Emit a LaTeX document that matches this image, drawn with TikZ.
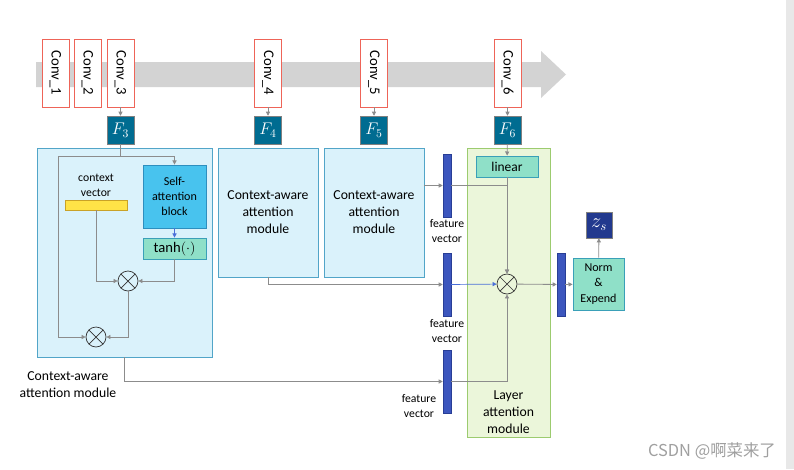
\documentclass[tikz,border=0pt]{standalone}
\usepackage{fontspec}
\setmainfont{Carlito}
\newfontfamily\cjkfont{Noto Sans CJK SC}
\usetikzlibrary{arrows.meta}

\definecolor{bandgray}{RGB}{211,211,211}
\definecolor{convred}{RGB}{238,100,88}
\definecolor{fteal}{RGB}{0,108,145}
\definecolor{modfill}{RGB}{218,242,251}
\definecolor{moddraw}{RGB}{82,165,200}
\definecolor{safill}{RGB}{72,195,238}
\definecolor{sadraw}{RGB}{45,143,191}
\definecolor{mint}{RGB}{143,224,200}
\definecolor{mintdraw}{RGB}{58,160,184}
\definecolor{cvyellow}{RGB}{255,227,71}
\definecolor{cvdraw}{RGB}{201,162,39}
\definecolor{fvblue}{RGB}{60,86,190}
\definecolor{fvdraw}{RGB}{40,62,150}
\definecolor{layfill}{RGB}{235,246,218}
\definecolor{laydraw}{RGB}{156,203,111}
\definecolor{zsblue}{RGB}{34,57,142}
\definecolor{wire}{RGB}{140,140,140}
\definecolor{bluewire}{RGB}{74,111,216}

\tikzset{
  conv/.style={draw=convred, fill=white, line width=0.8pt, inner sep=0pt,
    minimum width=0.81cm, minimum height=2.04cm, font=\fontsize{12.5}{14}\selectfont},
  fmap/.style={draw=gray, fill=fteal, text=white, inner sep=0pt,
    minimum width=0.81cm, minimum height=0.84cm, font=\fontsize{14.5}{16}\selectfont},
  module/.style={draw=moddraw, fill=modfill, line width=0.7pt, inner sep=2pt, align=center,
    font=\fontsize{11.7}{14.5}\selectfont},
  mintbox/.style={draw=mintdraw, fill=mint, line width=0.7pt, inner sep=0pt, align=center},
  fvec/.style={draw=fvdraw, fill=fvblue, inner sep=0pt, minimum width=0.24cm, minimum height=1.89cm},
  small/.style={align=center, font=\fontsize{10}{12.8}\selectfont},
  mult/.style={circle, draw=black!80, line width=0.6pt, minimum size=0.6cm, inner sep=0pt,
    path picture={\draw[black!80, line width=0.6pt]
      (path picture bounding box.north west) -- (path picture bounding box.south east)
      (path picture bounding box.north east) -- (path picture bounding box.south west);}},
  line/.style={draw=wire, line width=0.7pt},
  arr/.style={line, -{Triangle[length=3.5pt,width=3.5pt]}}
}

\begin{document}
\begin{tikzpicture}[x=0.03cm, y=-0.03cm]

\useasboundingbox (0,0) rectangle (794,469);
\fill [gray!18] (786,0) rectangle (794,469);

% backbone
\fill [bandgray] (36,62) -- (541,62) -- (541,51) -- (566,74.5) -- (541,98) -- (541,87) -- (36,87) -- cycle;

\node [conv] (c1) at (55.5,73) {\rotatebox{-90}{Conv\_1}};
\node [conv] (c2) at (87.5,73) {\rotatebox{-90}{Conv\_2}};
\node [conv] (c3) at (120.5,73) {\rotatebox{-90}{Conv\_3}};
\node [conv] (c4) at (268,73) {\rotatebox{-90}{Conv\_4}};
\node [conv] (c5) at (374,73) {\rotatebox{-90}{Conv\_5}};
\node [conv] (c6) at (507.5,73) {\rotatebox{-90}{Conv\_6}};

\node [fmap] (f3) at (120.5,130) {$F_3$};
\node [fmap] (f4) at (268,130) {$F_4$};
\node [fmap] (f5) at (374,130) {$F_5$};
\node [fmap] (f6) at (507.5,130) {$F_6$};

\foreach \i in {3,4,5,6}
  \draw [arr] (c\i) -- (f\i);

% context-aware attention modules
\node [module, minimum width=5.25cm, minimum height=6.27cm] (m1) at (124.5,252.5) {};
\node [module, minimum width=3cm, minimum height=3.87cm] (m2) at (268,212.5) {Context-aware\\attention\\module};
\node [module, minimum width=3cm, minimum height=3.87cm] (m3) at (374,212.5) {Context-aware\\attention\\module};
\node [align=center, font=\fontsize{11.7}{14.5}\selectfont] (m1lab) at (68,384.5) {Context-aware\\attention module};

% inside the first module
\node [draw=sadraw, fill=safill, line width=0.7pt, minimum width=1.89cm, minimum height=1.89cm,
  align=center, font=\fontsize{10.3}{12.6}\selectfont] (sa) at (174.5,196.5) {Self-\\attention\\block};
\node [mintbox, minimum width=1.89cm, minimum height=0.63cm, font=\fontsize{12.5}{14}\selectfont] (tanh) at (174.5,248.5) {$\tanh(\cdot)$};
\node [small] (cvlab) at (96,185) {context\\vector};
\node [draw=cvdraw, fill=cvyellow, minimum width=1.86cm, minimum height=0.3cm, inner sep=0pt] (cv) at (96,205) {};
\node [mult] (o1) at (128,281) {};
\node [mult] (o2) at (96,337) {};

\coordinate (split) at (120.5,156);
\coordinate (lft) at (58,156);
\draw [line] (f3) -- (split);
\draw [arr] (split) -| (sa.north);
\draw [arr] (split) -- (lft) |- (o2);
\draw [-{Triangle[length=3.5pt,width=3.5pt]}, bluewire, line width=0.7pt] (sa) -- (tanh);
\draw [arr] (cv.south) |- (o1);
\draw [arr] (tanh.south) |- (o1);
\draw [arr] (o1.south) |- (o2);

% feature vectors
\node [fvec] (fv1) at (447,185.5) {};
\node [fvec] (fv2) at (447,284.5) {};
\node [fvec] (fv3) at (447,381.5) {};
\node [small] at (447,231.5) {feature\\vector};
\node [small] at (447,331.5) {feature\\vector};
\node [small] at (419,406) {feature\\vector};

\draw [arr] (m3.east |- fv1) -- (fv1);
\draw [arr] (m2.south) |- (fv2);
\draw [arr] (m1.south) |- (fv3);

% layer attention module
\node [draw=laydraw, fill=layfill, line width=0.7pt, minimum width=2.49cm, minimum height=8.67cm] (lam) at (508.5,292.5) {};
\node [align=center, font=\fontsize{11.7}{14.5}\selectfont] at (508.5,412) {Layer\\attention\\module};
\node [mintbox, minimum width=1.86cm, minimum height=0.63cm, font=\fontsize{11.5}{13}\selectfont] (lin) at (507,166.5) {linear};
\node [mult] (o3) at (507,284) {};

\draw [arr] (f6) -- (lin);
\draw [arr] (lin) -- (o3);
\draw [arr] (fv1.east) -| (o3);
\draw [-{Triangle[length=3.5pt,width=3.5pt]}, bluewire, line width=0.6pt] (fv2) -- (o3);
\draw [arr] (fv3.east) -| (o3);

% output
\node [fvec] (fvo) at (561,284.5) {};
\node [mintbox, minimum width=1.53cm, minimum height=1.56cm, font=\fontsize{10.3}{13}\selectfont] (norm) at (598.5,284) {Norm\\\&\\Expend};
\node [draw=gray, fill=zsblue, text=white, minimum width=0.78cm, minimum height=0.78cm, inner sep=0pt,
  font=\fontsize{16}{18}\selectfont] (zs) at (599,225) {$z_s$};

\draw [arr] (o3) -- (fvo);
\draw [arr] (fvo) -- (norm);
\draw [arr] (norm) -- (zs);

\node [text=gray!75, font=\cjkfont\fontsize{14}{16}\selectfont] (wm) at (712,451) {CSDN @啊菜来了};

\end{tikzpicture}
\end{document}
